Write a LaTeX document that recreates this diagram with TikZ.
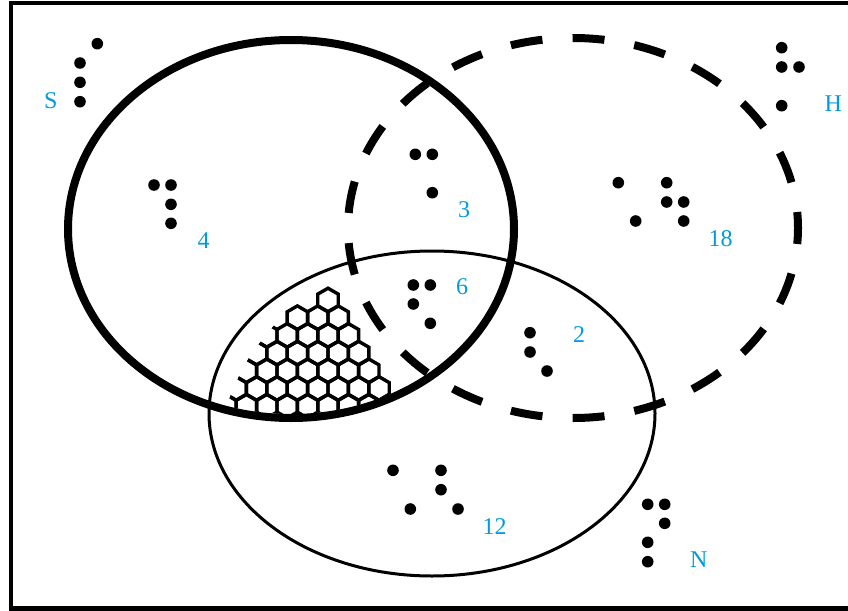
\documentclass[tikz,border=0pt]{standalone}
\usepackage{fontspec}
\setmainfont{Liberation Serif}
\definecolor{lblue}{RGB}{0,155,219}
\begin{document}
\begin{tikzpicture}[x=1pt,y=-1pt,
  dot/.style={circle,fill=black,inner sep=0pt,minimum size=11.6pt},
  lbl/.style={text=lblue,inner sep=0pt,font=\fontsize{24}{28}\selectfont},
  hexline/.style={line width=3.4pt,line join=miter},
  frameline/.style={line width=4.3pt}]
\useasboundingbox (0,0) rectangle (848,610);
\clip (0,0) rectangle (848,610);
% frame
\draw[frameline] (11.2,3) rectangle (855,608.5);
% hexagon pattern
\begin{scope}
  \clip (291,229) ellipse [x radius=219, y radius=185];
  \clip (432,413.5) ellipse [x radius=223, y radius=162.5];
  \clip (420,270) -- (300,270) -- (280,318) -- (262,340) -- (250,356) -- (240,374) -- (232,392) -- (225,410) -- (225,440) -- (420,440) -- cycle;
  \foreach \r/\n in {0/1,1/3,2/5,3/6,4/7,5/8,6/9} {
    \foreach \k in {1,...,\n} {
      \pgfmathsetmacro\hx{328+10.2*\r-20.4*(\k-1)}
      \pgfmathsetmacro\hy{300+17.7*\r}
      \draw[hexline] (\hx,\hy) +(90:11.8) -- +(150:11.8) -- +(210:11.8) -- +(270:11.8) -- +(330:11.8) -- +(30:11.8) -- cycle;
    }
  }
\end{scope}
% sets
\draw[line width=3pt] (432,413.5) ellipse [x radius=223, y radius=162.5];
\draw[line width=8pt] (291,229) ellipse [x radius=223, y radius=189];
\draw[line width=8pt, dash pattern=on 32pt off 30.2pt, dash phase=16pt] (573,228) ellipse [x radius=225, y radius=190];
% dots
\foreach \nm/\x/\y in {
  s1/97.3/43.7, s2/80/63, s3/80/82.3, s4/80/101.7,
  f1/154/185, f2/171/185, f3/171/204.3, f4/171/223.3,
  t1/415.3/154.3, t2/432.3/154.3, t3/432.3/192.7,
  h1/781.7/47.7, h2/781.7/67, h3/799/67, h4/781.7/105.7,
  e1/618.3/182.7, e2/666.7/182.7, e3/666.7/202, e4/683.7/202, e5/635.7/221, e6/683.7/221,
  x1/413.3/285, x2/430.3/285, x3/413.3/304, x4/430.3/323.3,
  w1/530/332.7, w2/530/352, w3/547/371,
  v1/393/470.3, v2/441/470.3, v3/441/489.7, v4/410.3/509, v5/458/509,
  n1/647.7/504.3, n2/664.7/504.3, n3/664.7/523.3, n4/647.7/542.3, n5/647.7/561.7}
  \node[dot] (\nm) at (\x,\y) {};
% labels
\node[lbl] (labS) at (50.7,100.7) {S};
\node[lbl] (labH) at (833.3,103.8) {H};
\node[lbl] (labN) at (698.7,559.7) {N};
\node[lbl] (lab4) at (203.7,240.5) {4};
\node[lbl] (lab3) at (464,210) {3};
\node[lbl] (lab18) at (720.5,238.7) {18};
\node[lbl] (lab6) at (462,287) {6};
\node[lbl] (lab2) at (579,335) {2};
\node[lbl] (lab12) at (494.5,526.7) {12};
\end{tikzpicture}
\end{document}
